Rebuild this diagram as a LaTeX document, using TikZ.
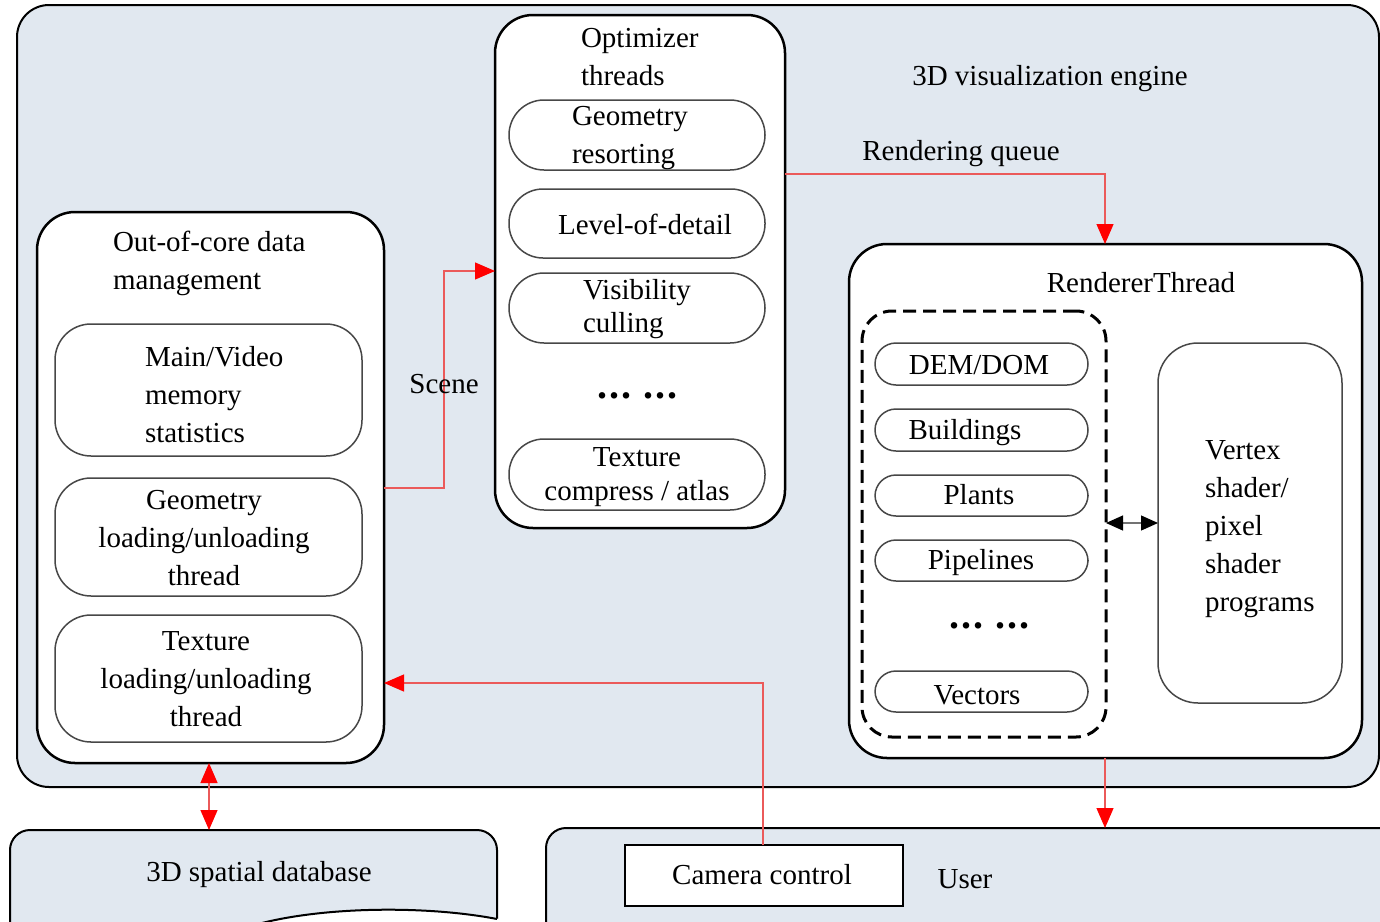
\documentclass[tikz,border=0pt]{standalone}
\usepackage{fontspec}
\setmainfont{Liberation Serif}
\usetikzlibrary{arrows.meta}
\definecolor{bgblue}{RGB}{225,232,240}
\definecolor{redline}{RGB}{235,90,90}
\newcommand{\mydots}{{\fontsize{40}{40}\selectfont\bfseries .\kern2pt.\kern2pt.\kern12pt.\kern2pt.\kern2pt.}}
\begin{document}
\begin{tikzpicture}[x=1pt,y=-1pt,
  every node/.style={outer sep=0pt},
  lbl/.style={font=\fontsize{29}{38}\selectfont, inner sep=0pt},
  bigbox/.style={draw=black, line width=2.5pt, fill=white, rounded corners=38pt, inner sep=0pt},
  subbox/.style={draw=black!72, line width=1.5pt, fill=white, rounded corners=36pt, inner sep=0pt},
  stad/.style={draw=black!72, line width=1.5pt, fill=white, rounded corners=21pt, inner sep=0pt},
  areabox/.style={draw=black, line width=2pt, fill=bgblue, inner sep=0pt},
  redarrow/.style={draw=redline, line width=1.2pt, -{Triangle[length=20pt,width=17pt,color=red]}},
  redboth/.style={draw=redline, line width=1.2pt, {Triangle[length=20pt,width=17pt,color=red]}-{Triangle[length=20pt,width=17pt,color=red]}},
]
\useasboundingbox (0,0) rectangle (1380,921);
% big areas
\node[areabox, rounded corners=32pt, minimum width=1362pt, minimum height=782pt] (eng) at (698,396) {};
\node[areabox, rounded corners=20pt, minimum width=487pt, minimum height=130pt] (db) at (253.5,895) {};
\node[areabox, rounded corners=20pt, minimum width=860pt, minimum height=132pt] (user) at (976,894) {};
\fill[white] (262,923) .. controls (330,906) and (430,906) .. (499,919) -- (499,930) -- (262,930) -- cycle;
\draw[line width=2pt] (262,923) .. controls (330,906) and (430,906) .. (497,919);
% labels of areas
\node[lbl] (engl) at (1050,79) {3D visualization engine};
\node[lbl] (dbl) at (259,875) {3D spatial database};
\node[lbl] (userl) at (965,879) {User};
\node[draw=black, line width=2.5pt, fill=white, minimum width=278pt, minimum height=61pt, inner sep=0pt] (cam) at (764,875.5) {};
\node[lbl] (caml) at (762,875) {Camera control};
% out-of-core
\node[bigbox, minimum width=347pt, minimum height=551pt] (ooc) at (210.5,487.5) {};
\node[lbl, anchor=west, align=left] (oocl) at (113,263) {Out-of-core data\\management};
\node[subbox, minimum width=307pt, minimum height=132pt] (mem) at (208.5,390) {};
\node[lbl, anchor=west, align=left] (meml) at (145,395) {Main/Video\\memory\\statistics};
\node[subbox, minimum width=307pt, minimum height=118pt] (geo) at (208.5,537) {};
\node[lbl, align=center] (geol) at (204,538) {Geometry\\loading/unloading\\thread};
\node[subbox, minimum width=307pt, minimum height=127pt] (tex) at (208.5,678.5) {};
\node[lbl, align=center] (texl) at (206,679) {Texture\\loading/unloading\\thread};
% optimizer
\node[bigbox, minimum width=290pt, minimum height=513pt] (opt) at (640,271.5) {};
\node[lbl, anchor=west, align=left] (optl) at (581,57) {Optimizer\\threads};
\node[stad, rounded corners=35pt, minimum width=256pt, minimum height=70pt] (gr) at (637,135) {};
\node[lbl, anchor=west, align=left] (grl) at (572,138) {Geometry\\resorting};
\node[stad, rounded corners=34pt, minimum width=256pt, minimum height=69pt] (lod) at (637,223.5) {};
\node[lbl] (lodl) at (645,224) {Level-of-detail};
\node[stad, rounded corners=35pt, minimum width=256pt, minimum height=70pt] (vis) at (637,308) {};
\node[lbl, font=\fontsize{29}{33}\selectfont, anchor=west, align=left] (visl) at (583,309) {Visibility\\culling};
\node[lbl, anchor=base] (odots) at (637.5,398.5) {\mydots};
\node[stad, rounded corners=35pt, minimum width=256pt, minimum height=71pt] (tca) at (637,474.5) {};
\node[lbl, font=\fontsize{29}{34}\selectfont, align=center] (tcal) at (637,477) {Texture\\compress / atlas};
% renderer
\node[bigbox, minimum width=513pt, minimum height=514pt] (rt) at (1105.5,501) {};
\node[lbl] (rtl) at (1141,283) {RendererThread};
\node[draw=black, line width=3pt, dash pattern=on 13pt off 7pt, rounded corners=30pt, minimum width=244pt, minimum height=426pt, inner sep=0pt] (dash) at (984,524) {};
\node[stad, minimum width=213pt, minimum height=42pt] (dem) at (981.5,364) {};
\node[lbl] (deml) at (979,365) {DEM/DOM};
\node[stad, minimum width=213pt, minimum height=42pt] (bld) at (981.5,430) {};
\node[lbl] (bldl) at (965,433) {Buildings};
\node[stad, minimum width=213pt, minimum height=41pt] (pla) at (981.5,495.5) {};
\node[lbl] (plal) at (979,495) {Plants};
\node[stad, minimum width=213pt, minimum height=41pt] (pip) at (981.5,560.5) {};
\node[lbl] (pipl) at (981,563) {Pipelines};
\node[lbl, anchor=base] (rdots) at (989.5,628.5) {\mydots};
\node[stad, minimum width=213pt, minimum height=41pt] (vec) at (981.5,691.5) {};
\node[lbl] (vecl) at (977,695) {Vectors};
\node[subbox, rounded corners=40pt, minimum width=184pt, minimum height=360pt] (shd) at (1250,523) {};
\node[lbl, anchor=west, align=left] (shdl) at (1205,529) {Vertex\\shader/\\pixel\\shader\\programs};
% connectors
\draw[black!55, line width=1.2pt, {Triangle[length=17pt,width=15pt,color=black]}-{Triangle[length=17pt,width=15pt,color=black]}] (dash.east |- shd.west) -- (shd.west);
\coordinate (scA) at (444,488);
\coordinate (scB) at (444,271);
\draw[redarrow] (ooc.east |- scA) -- (scA) -- (scB) -- (opt.west |- scB);
\node[lbl] (scl) at (444,384) {Scene};
\coordinate (rqA) at (1105,174);
\draw[redarrow] (opt.east |- rqA) -- (rqA) -- (rt.north -| rqA);
\node[lbl] (rql) at (961,154) {Rendering queue};
\coordinate (caA) at (763,683);
\draw[redarrow] (cam.north -| caA) -- (caA) -- (ooc.east |- caA);
\draw[redarrow] (rt.south -| rqA) -- (user.north -| rqA);
\coordinate (dbA) at (209,800);
\draw[redboth] (ooc.south -| dbA) -- (db.north -| dbA);
\end{tikzpicture}
\end{document}
